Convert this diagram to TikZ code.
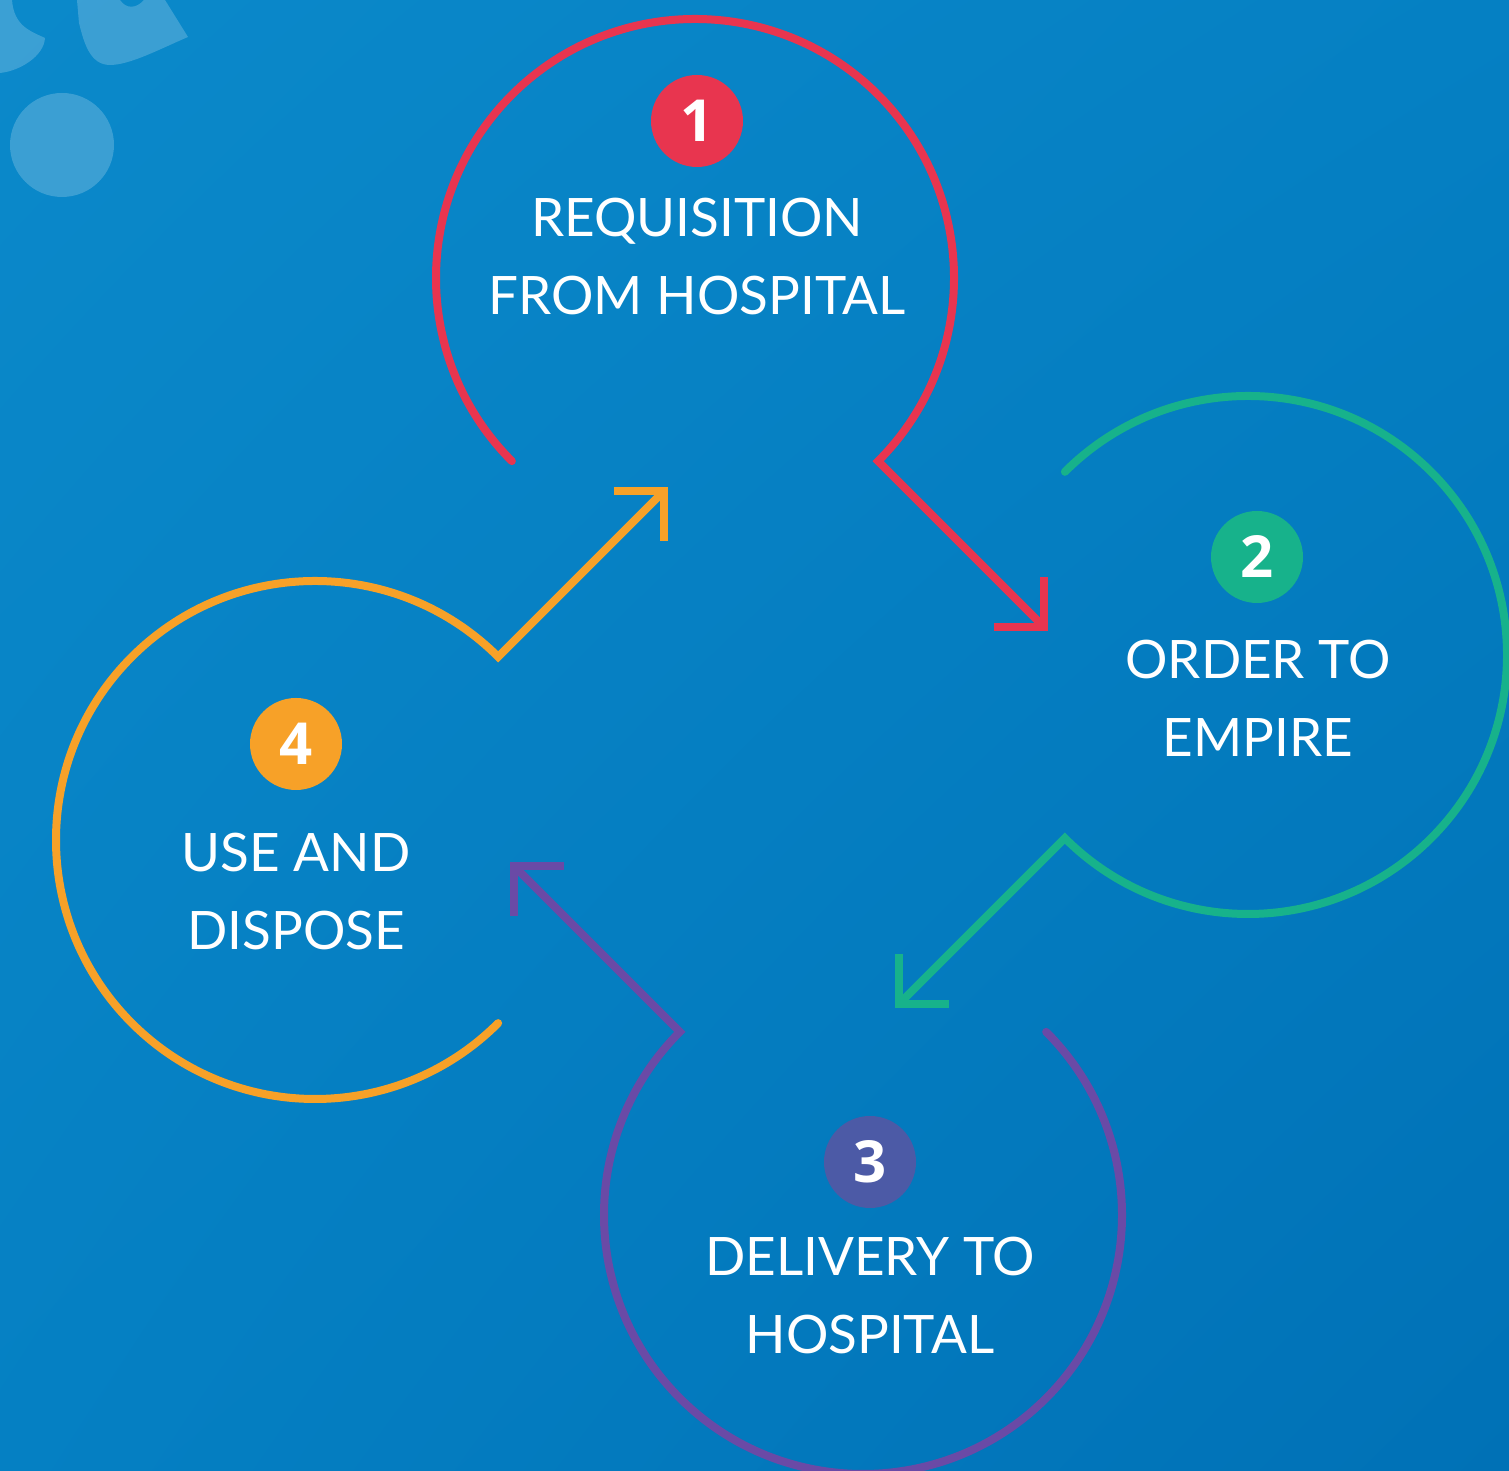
\documentclass[tikz,border=0pt]{standalone}
\usepackage{fontspec}
\setmainfont{Lato}
\newfontfamily\numfont{Open Sans}
\usetikzlibrary{arrows.meta,shadings}
\definecolor{bgA}{HTML}{0B89CA}
\definecolor{bgB}{HTML}{0580C3}
\definecolor{bgC}{HTML}{0071B6}
\definecolor{ringred}{HTML}{E8354F}
\definecolor{ringgreen}{HTML}{17B28B}
\definecolor{ringpurple}{HTML}{6A4AA6}
\definecolor{badgepurple}{HTML}{4C5AA6}
\definecolor{ringorange}{HTML}{F7A128}

\begin{document}
\begin{tikzpicture}[x=0.5pt, y=0.5pt,
  ring/.style={line width=4pt, line cap=round, line join=miter,
    -{Straight Barb[angle=90:25pt, line cap=butt, line join=miter]}},
  badge/.style={circle, fill=#1, text=white, minimum size=46pt, inner sep=0pt,
    font=\numfont\bfseries\fontsize{29}{29}\selectfont},
  steptext/.style={text=white, align=center, font=\fontsize{26.5}{39}\selectfont}]

  % background
  \useasboundingbox (0,0) rectangle (1509,1471);
  \shade[upper left=bgA, upper right=bgB, lower left=bgB, lower right=bgC]
    (0,0) rectangle (1509,1471);
  \begin{scope}[fill=white, fill opacity=0.2]
    \fill (62,1326) circle[radius=26pt];
    \fill (0,1471) -- (12,1471) .. controls (14,1445) and (30,1440) .. (45,1433)
          .. controls (44,1415) and (20,1400) .. (0,1398) -- cycle;
    \fill (77,1471) -- (120,1471) .. controls (126,1462) and (136,1462) .. (144,1471)
          -- (165,1471) -- (188,1434) .. controls (160,1422) and (130,1406) .. (110,1406)
          .. controls (90,1406) and (84,1428) .. (79,1448) -- cycle;
  \end{scope}

  \coordinate (c1) at (695,1193);
  \coordinate (c2) at (1248,816);
  \coordinate (c3) at (863,256);
  \coordinate (c4) at (315,631);

  \coordinate (t1) at ([shift={(-45:249.5pt)}]c1);
  \coordinate (t2) at ([shift={(225:249.5pt)}]c2);
  \coordinate (t3) at ([shift={(135:249.5pt)}]c3);
  \coordinate (t4) at ([shift={(45:249.5pt)}]c4);

  \draw[ring, ringred] ([shift={(225:129.5pt)}]c1)
    arc[start angle=225, delta angle=-270, radius=129.5pt] -- (t1);
  \draw[ring, ringgreen] ([shift={(135:129.5pt)}]c2)
    arc[start angle=135, delta angle=-270, radius=129.5pt] -- (t2);
  \draw[ring, ringpurple] ([shift={(45:129.5pt)}]c3)
    arc[start angle=45, delta angle=-270, radius=129.5pt] -- (t3);
  \draw[ring, ringorange] ([shift={(-45:129.5pt)}]c4)
    arc[start angle=-45, delta angle=-270, radius=129.5pt] -- (t4);

  \node[badge=ringred] (n1) at (697,1350) {1};
  \node[badge=ringgreen] (n2) at (1257,914) {2};
  \node[badge=badgepurple] (n3) at (870,309) {3};
  \node[badge=ringorange] (n4) at (296,727) {4};

  \node[steptext] (l1) at (697,1214) {REQUISITION\\FROM HOSPITAL};
  \node[steptext] (l2) at (1258,773) {ORDER TO\\EMPIRE};
  \node[steptext] (l3) at (870,175) {DELIVERY TO\\HOSPITAL};
  \node[steptext] (l4) at (296,579) {USE AND\\DISPOSE};
\end{tikzpicture}
\end{document}
